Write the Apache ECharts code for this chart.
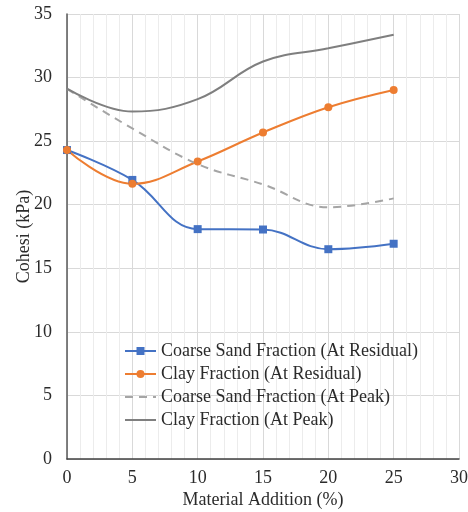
<!DOCTYPE html>
<html><head><meta charset="utf-8">
<script src="https://cdn.jsdelivr.net/npm/echarts@6/dist/echarts.min.js"></script>
<style>html,body{margin:0;padding:0;background:#fff}#c{width:468px;height:512px}</style>
</head><body><div id="c"></div>
<script>
const xValues = [0, 5, 10, 15, 20, 25];
const coarseResidual = [24.3, 21.95, 18.08, 18.05, 16.5, 16.93];
const clayResidual = [24.3, 21.64, 23.4, 25.68, 27.67, 29.03];
const coarsePeak = [29.1, 26.0, 23.2, 21.6, 19.8, 20.5];
const clayPeak = [29.13, 27.33, 28.3, 31.26, 32.3, 33.36];
const seriesNames = ['Coarse Sand Fraction (At Residual)', 'Clay Fraction (At Residual)', 'Coarse Sand Fraction (At Peak)', 'Clay Fraction (At Peak)'];

const pairs = arr => xValues.map((x, i) => [x, arr[i]]);
const font = '"Liberation Serif", "Times New Roman", serif';
const txt = '#2b2b2b';
const chart = echarts.init(document.getElementById('c'));
chart.setOption({
  animation: false,
  grid: {left: 67, right: 9, top: 14, bottom: 53, outerBoundsMode: 'none', containLabel: false},
  legend: {
    orient: 'vertical', left: 119, top: 337, itemWidth: 31, itemHeight: 10, itemGap: 5,
    textStyle: {fontFamily: font, fontSize: 18, color: txt},
    data: [
      {name: seriesNames[0]},
      {name: seriesNames[1]},
      {name: seriesNames[2], itemStyle: {opacity: 0}},
      {name: seriesNames[3], itemStyle: {opacity: 0}}
    ]
  },
  xAxis: {
    type: 'value', min: 0, max: 30, interval: 5,
    name: 'Material Addition (%)', nameLocation: 'middle', nameGap: 32, nameMoveOverlap: false,
    nameTextStyle: {fontFamily: font, fontSize: 18, color: txt},
    axisLine: {show: true, lineStyle: {color: '#404040', width: 1.5}},
    axisTick: {show: false},
    axisLabel: {fontFamily: font, fontSize: 18, color: txt, margin: 10},
    splitLine: {show: true, lineStyle: {color: '#d9d9d9'}},
    minorTick: {show: false, splitNumber: 5},
    minorSplitLine: {show: true, lineStyle: {color: '#ececec'}}
  },
  yAxis: {
    type: 'value', min: 0, max: 35, interval: 5,
    name: 'Cohesi (kPa)', nameLocation: 'middle', nameGap: 34, nameMoveOverlap: false,
    nameTextStyle: {fontFamily: font, fontSize: 18, color: txt},
    axisLine: {show: true, lineStyle: {color: '#595959', width: 1.5}},
    axisTick: {show: false},
    axisLabel: {fontFamily: font, fontSize: 18, color: txt, margin: 15},
    splitLine: {show: true, lineStyle: {color: '#d9d9d9'}}
  },
  series: [
    {name: seriesNames[0], type: 'line', data: pairs(coarseResidual), smooth: 0.4,
     symbol: 'rect', symbolSize: 8, itemStyle: {color: '#4472C4'}, lineStyle: {width: 2, color: '#4472C4'}},
    {name: seriesNames[1], type: 'line', data: pairs(clayResidual), smooth: 0.4,
     symbol: 'circle', symbolSize: 8, itemStyle: {color: '#ED7D31'}, lineStyle: {width: 2, color: '#ED7D31'}},
    {name: seriesNames[2], type: 'line', data: pairs(coarsePeak), smooth: 0.4,
     symbol: 'none', itemStyle: {color: '#A5A5A5'}, lineStyle: {width: 2, color: '#A5A5A5', type: [8, 6]}},
    {name: seriesNames[3], type: 'line', data: pairs(clayPeak), smooth: 0.4,
     symbol: 'none', itemStyle: {color: '#7F7F7F'}, lineStyle: {width: 2, color: '#7F7F7F'}}
  ]
});
</script></body></html>
